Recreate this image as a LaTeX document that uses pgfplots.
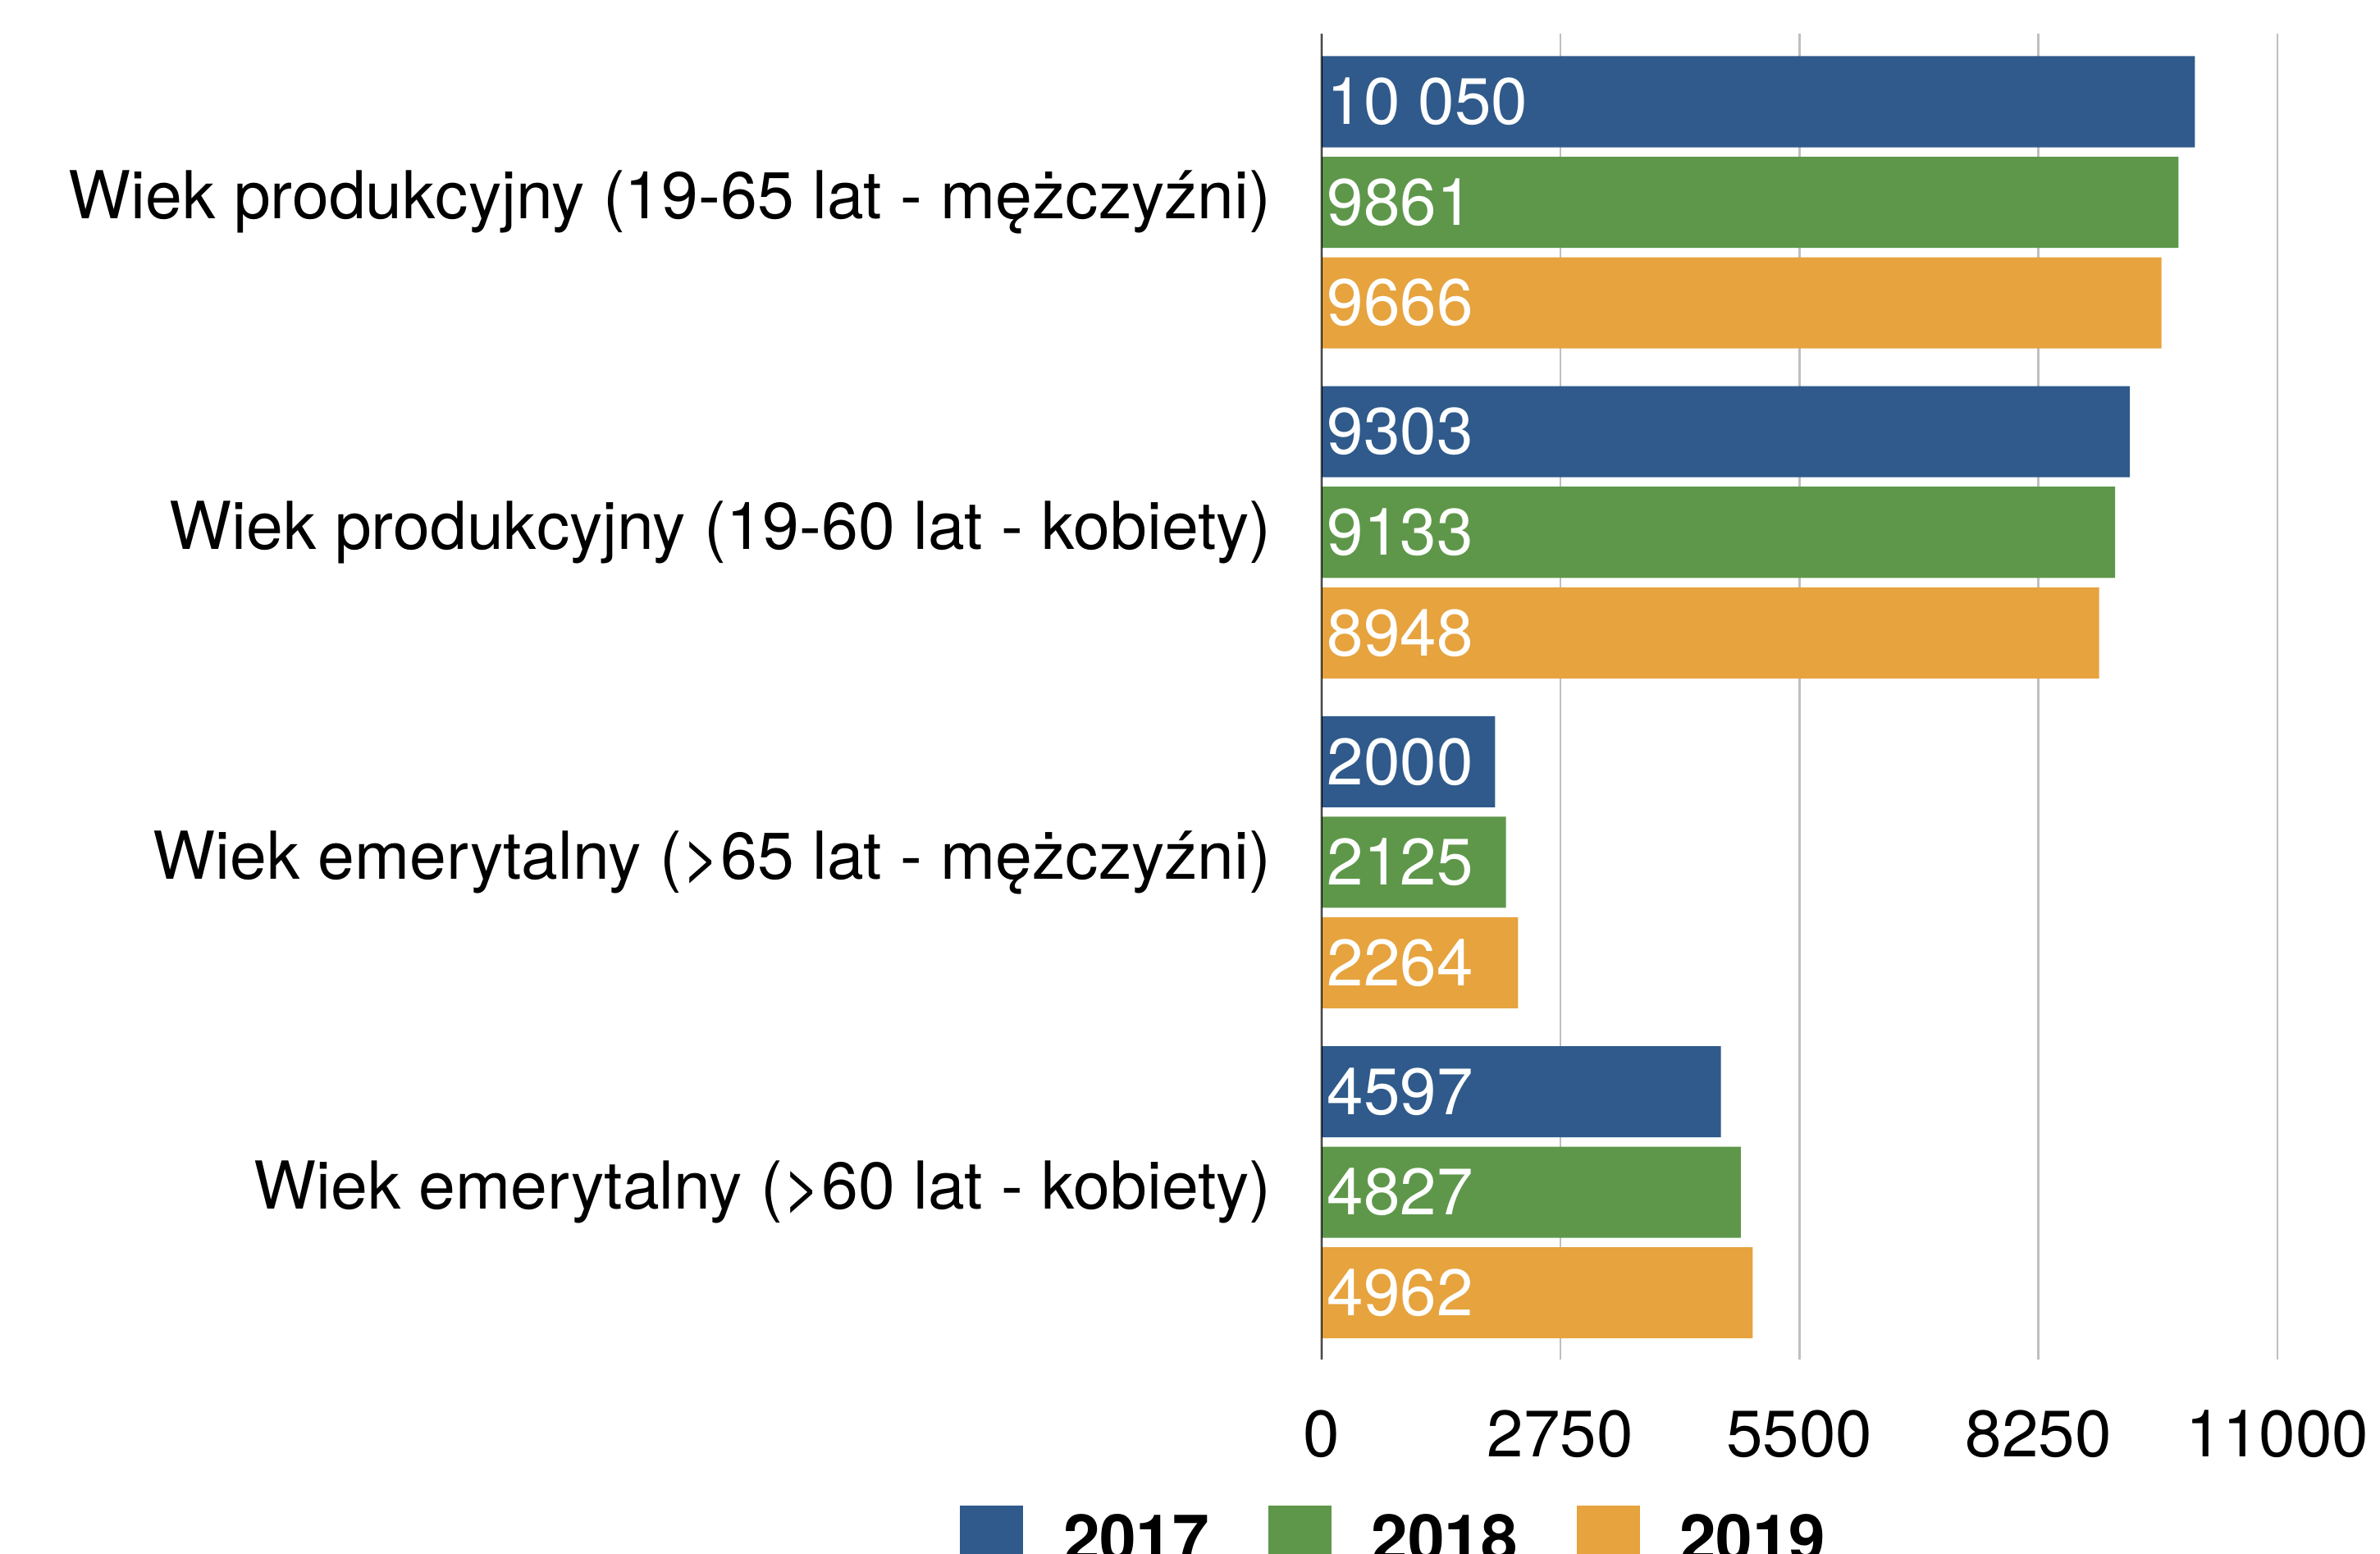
\documentclass[border=0pt]{standalone}
\usepackage{fontspec}
\setmainfont{TeX Gyre Heros}
\usepackage{pgfplots}
\pgfplotsset{compat=1.18}
\definecolor{c17}{RGB}{47,90,139}
\definecolor{c18}{RGB}{94,151,74}
\definecolor{c19}{RGB}{230,163,62}
\begin{document}
\begin{tikzpicture}
\useasboundingbox (0,0) rectangle (580pt,378.5pt);
\begin{axis}[
  at={(322pt,47.3pt)}, anchor=south west,
  scale only axis, width=233pt, height=323pt,
  xbar, bar width=22.2pt,
  xmin=0, xmax=11000, ymin=-0.511, ymax=3.506, y dir=reverse,
  enlargelimits=false,
  axis line style={draw=none},
  xtick={0,2750,5500,8250,11000},
  scaled x ticks=false,
  ytick={0,1,2,3},
  yticklabels={Wiek produkcyjny (19-65 lat - mężczyźni),Wiek produkcyjny (19-60 lat - kobiety),Wiek emerytalny (>65 lat - mężczyźni),Wiek emerytalny (>60 lat - kobiety)},
  major tick length=0pt,
  xmajorgrids, major grid style={color=black!25, line width=0.55pt},
  /pgf/number format/assume math mode=true,
  /pgf/number format/1000 sep={},
  tick label style={font=\fontsize{16}{19}\selectfont},
  xticklabel style={anchor=north, inner sep=0pt, yshift=-12.2pt},
  yticklabel style={anchor=east, inner sep=0pt, xshift=-12pt, font=\fontsize{16.1}{19}\selectfont},
  legend columns=3,
  legend image code/.code={\fill[#1] (0pt,-3pt) rectangle (15.4pt,15pt);},
  legend style={at={(axis description cs:-0.3785,-0.110)}, anchor=north west, draw=none, fill=none, inner sep=0pt,
    font=\bfseries\fontsize{16}{19}\selectfont,
    nodes={inner sep=0pt, yshift=6.5pt},
    /tikz/every odd column/.style={column sep=9.7pt},
    /tikz/every even column/.style={column sep=14.4pt}},
  every node near coord/.append style={white, anchor=west, inner sep=0pt, xshift=1.2pt, font=\fontsize{16}{19}\selectfont},
]
\addplot[fill=c17, draw=none, bar shift=24.5pt] coordinates {(10050,0) (9303,1) (2000,2) (4597,3)};
\addlegendentry{2017}
\addplot[fill=c18, draw=none, bar shift=0pt] coordinates {(9861,0) (9133,1) (2125,2) (4827,3)};
\addlegendentry{2018}
\addplot[fill=c19, draw=none, bar shift=-24.5pt] coordinates {(9666,0) (8948,1) (2264,2) (4962,3)};
\addlegendentry{2019}
\addplot[forget plot, draw=none, fill=none, bar shift=24.5pt, nodes near coords, point meta=explicit symbolic] coordinates {(0,0) [10 050] (0,1) [9303] (0,2) [2000] (0,3) [4597]};
\addplot[forget plot, draw=none, fill=none, bar shift=0pt, nodes near coords, point meta=explicit symbolic] coordinates {(0,0) [9861] (0,1) [9133] (0,2) [2125] (0,3) [4827]};
\addplot[forget plot, draw=none, fill=none, bar shift=-24.5pt, nodes near coords, point meta=explicit symbolic] coordinates {(0,0) [9666] (0,1) [8948] (0,2) [2264] (0,3) [4962]};
\addplot[forget plot, sharp plot, black, line width=0.6pt] coordinates {(0,-0.511) (0,3.506)};
\end{axis}
\end{tikzpicture}
\end{document}
